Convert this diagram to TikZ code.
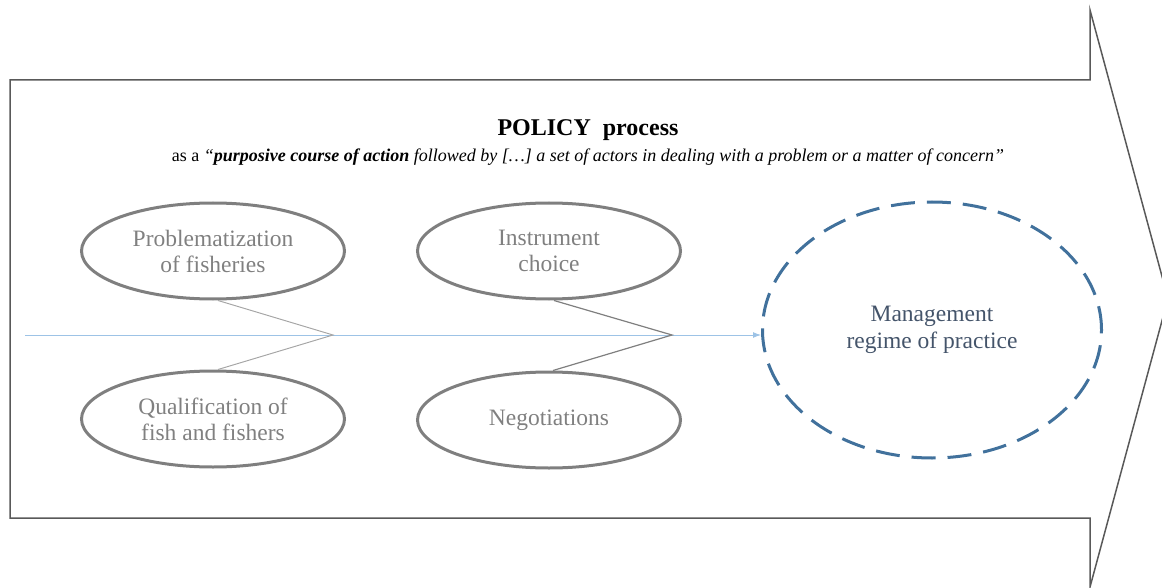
\documentclass[tikz,border=0pt]{standalone}
\usepackage{fontspec}
\setmainfont{Liberation Serif}
\usetikzlibrary{arrows.meta,shapes.geometric}

\definecolor{boxgray}{HTML}{595959}
\definecolor{ellgray}{HTML}{7F7F7F}
\definecolor{txtgray}{HTML}{808080}
\definecolor{chevlight}{HTML}{A6A6A6}
\definecolor{spineblue}{HTML}{9DC3E6}
\definecolor{regblue}{HTML}{41719C}
\definecolor{regtext}{HTML}{44546A}

\tikzset{
  stage/.style={ellipse, draw=ellgray, line width=3pt, inner sep=0pt,
    minimum width=263pt, minimum height=96pt, align=center, text=txtgray,
    font=\fontsize{23.5}{26}\selectfont},
  regime/.style={ellipse, draw=regblue, line width=3pt,
    dash pattern=on 24pt off 12pt, inner sep=0pt,
    minimum width=339pt, minimum height=256pt, align=center, text=regtext,
    font=\fontsize{23.5}{27}\selectfont},
}

\begin{document}
\begin{tikzpicture}[x=1pt,y=-1pt]
  \def\ytop{80}
  \def\ybot{518}
  \def\yspine{335}
  \useasboundingbox (0,0) rectangle (1162,588);
  % big arrow
  \draw[boxgray, line width=1.5pt] (10,\ytop) -- (1090,\ytop) -- (1090,10)
    -- (1168,298.5) -- (1090,587) -- (1090,\ybot) -- (10,\ybot) -- cycle;
  \node (title) at (588,130) {\fontsize{24}{28}\selectfont\bfseries POLICY\ \ process};
  \node (quote) at (588,157) {\fontsize{18}{21}\selectfont as a
    \textit{“\textbf{purposive course of action} followed by […] a set of actors in dealing with a problem or a matter of concern”}};
  %
  \node[stage] (prob)  at (213,251) {Problematization\\of fisheries};
  \node[stage] (qual)  at (213,419) {Qualification of\\fish and fishers};
  \node[stage] (instr) at (549,251) {Instrument\\choice};
  \node[stage] (nego)  at (549,420) {Negotiations};
  \node[regime] (mgmt) at (932,330) {Management\\regime of practice};
  %
  \coordinate (start) at (25,\yspine);
  \coordinate (tipA) at (333,\yspine);
  \coordinate (tipB) at (672,\yspine);
  \draw[spineblue, line width=1pt, -{Latex[length=8pt,width=6pt]}] (start) -- (start -| mgmt.west);
  \draw[chevlight, line width=1pt] ([xshift=5pt]prob.south) -- (tipA) -- ([xshift=5pt]qual.north);
  \draw[ellgray, line width=1.2pt] ([xshift=5pt]instr.south) -- (tipB) -- ([xshift=4pt]nego.north);
  %
\end{tikzpicture}
\end{document}
